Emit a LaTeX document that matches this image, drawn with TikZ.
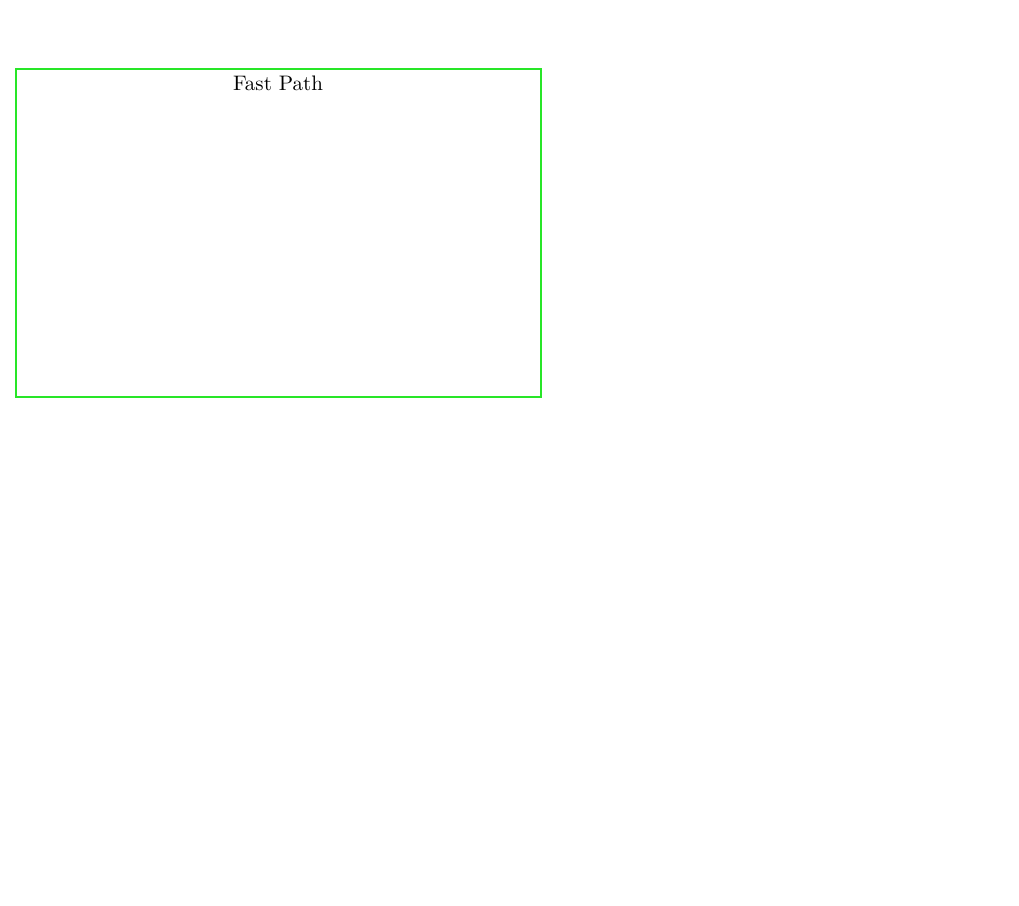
\documentclass[tikz,border=0pt]{standalone}
\usepackage{graphicx}
\begin{document}
\begin{tikzpicture}[x=1pt,y=-1pt,
  groupbox/.style={draw={rgb,255:red,40;green,230;blue,40}, line width=1.2pt},
  grouplabel/.style={anchor=base, inner sep=0pt}]
\useasboundingbox (0,0) rectangle (1019,905);
\draw[groupbox] (16,69) rectangle (541,397);
\node[grouplabel] (label) at (278,90) {\scalebox{2.1}{Fast Path}};
\end{tikzpicture}
\end{document}
